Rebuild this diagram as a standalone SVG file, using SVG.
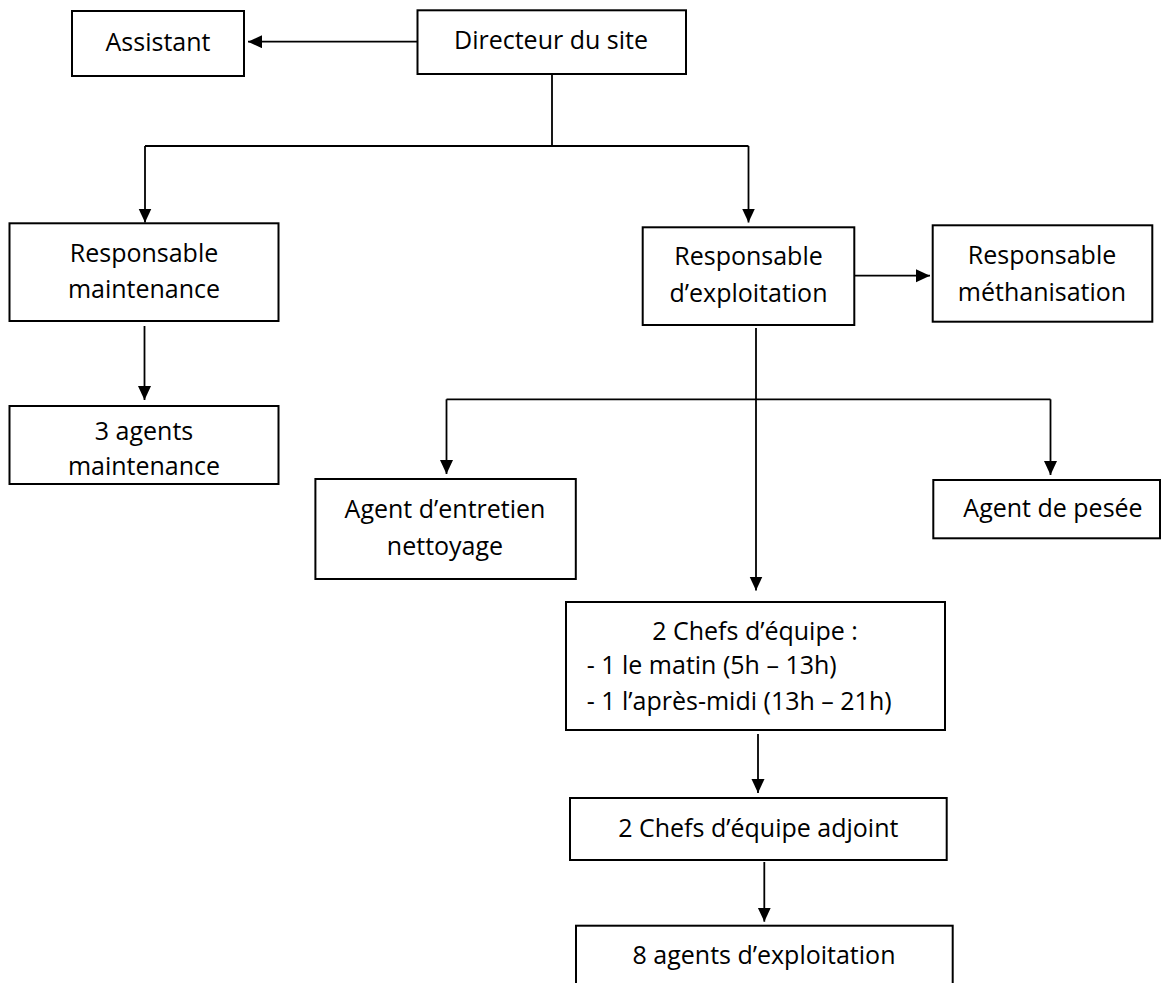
<svg xmlns="http://www.w3.org/2000/svg" width="1165" height="983" viewBox="0 0 1165 983">
<style>
.box{fill:#fff;stroke:#000;stroke-width:2}
.lbl{font-family:"Open Sans","Noto Sans","Liberation Sans",sans-serif;font-size:25px;fill:#000}
.c{text-anchor:middle}
.conn{stroke:#000;stroke-width:1.8;fill:none}
</style>
<defs>
<marker id="arr" markerUnits="userSpaceOnUse" markerWidth="15" markerHeight="14" refX="14" refY="6.5" orient="auto">
<path d="M0,0 L14,6.5 L0,13 z" fill="#000"/>
</marker>
</defs>
<rect width="1165" height="983" fill="#fff"/>
<g id="connectors">
<path class="conn" d="M417,41.7 H248" marker-end="url(#arr)"/>
<path class="conn" d="M552,74 V146 M145,146 H748.5"/>
<path class="conn" d="M145,146 V222.5" marker-end="url(#arr)"/>
<path class="conn" d="M748.5,146 V222.5" marker-end="url(#arr)"/>
<path class="conn" d="M144.5,326 V400" marker-end="url(#arr)"/>
<path class="conn" d="M854.3,275.7 H930" marker-end="url(#arr)"/>
<path class="conn" d="M756,328 V590.5" marker-end="url(#arr)"/>
<path class="conn" d="M446.5,399.3 H1050.5"/>
<path class="conn" d="M446.5,399.3 V474" marker-end="url(#arr)"/>
<path class="conn" d="M1050.5,399.3 V475" marker-end="url(#arr)"/>
<path class="conn" d="M758,734 V793" marker-end="url(#arr)"/>
<path class="conn" d="M764.3,862 V921.7" marker-end="url(#arr)"/>
</g>
<g id="assistant">
<rect class="box" x="72" y="11" width="172" height="65"/>
<text class="lbl c" x="158" y="50.7">Assistant</text>
</g>
<g id="directeur">
<rect class="box" x="417.5" y="10.3" width="268.5" height="63.7"/>
<text class="lbl c" x="551" y="49.3">Directeur du site</text>
</g>
<g id="resp-maintenance">
<rect class="box" x="9.5" y="223.3" width="269" height="97.7"/>
<text class="lbl c" x="144" y="261.7">Responsable</text>
<text class="lbl c" x="144" y="298.3">maintenance</text>
</g>
<g id="agents-maintenance">
<rect class="box" x="9.5" y="406" width="269" height="78"/>
<text class="lbl c" x="144" y="440">3 agents</text>
<text class="lbl c" x="144" y="475">maintenance</text>
</g>
<g id="resp-exploitation">
<rect class="box" x="642.7" y="227.3" width="211.6" height="97.7"/>
<text class="lbl c" x="748.5" y="265">Responsable</text>
<text class="lbl c" x="748.5" y="301.7">d’exploitation</text>
</g>
<g id="resp-methanisation">
<rect class="box" x="932.7" y="225.3" width="219.6" height="96.4"/>
<text class="lbl c" x="1042" y="264.3">Responsable</text>
<text class="lbl c" x="1042" y="301">méthanisation</text>
</g>
<g id="agent-entretien">
<rect class="box" x="315.4" y="479" width="260.4" height="100"/>
<text class="lbl c" x="445" y="518.3">Agent d’entretien</text>
<text class="lbl c" x="445" y="555">nettoyage</text>
</g>
<g id="agent-pesee">
<rect class="box" x="933.3" y="480" width="226.7" height="58.3"/>
<text class="lbl c" x="1053" y="516.7">Agent de pesée</text>
</g>
<g id="chefs-equipe">
<rect class="box" x="566" y="602" width="379" height="128"/>
<text class="lbl c" x="755" y="640">2 Chefs d’équipe :</text>
<text class="lbl" x="586.7" y="674.3">- 1 le matin (5h – 13h)</text>
<text class="lbl" x="586.7" y="710">- 1 l’après-midi (13h – 21h)</text>
</g>
<g id="chefs-adjoint">
<rect class="box" x="570" y="798" width="376.7" height="62"/>
<text class="lbl c" x="758.3" y="836.7">2 Chefs d’équipe adjoint</text>
</g>
<g id="agents-exploitation">
<rect class="box" x="576" y="925.7" width="376.7" height="80"/>
<text class="lbl c" x="764" y="964">8 agents d’exploitation</text>
</g>
</svg>
